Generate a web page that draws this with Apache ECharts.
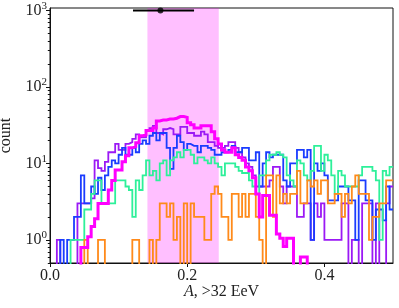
<!DOCTYPE html>
<html><head><meta charset="utf-8">
<script src="https://cdn.jsdelivr.net/npm/echarts@6/dist/echarts.min.js"></script>
<style>html,body{margin:0;padding:0;background:#fff}#c{width:399px;height:308px}</style>
</head><body><div id="c"></div>
<script>
// histogram bins: 100 bins of width 0.005 from 0 to 0.5
const binStart = 0, binWidth = 0.005;
const magenta = [0,0,0,0,0,0,0,0,0,0.8, 0.8,1.1,1.5,1.9,3,3,3,4.5,6,8.2, 8.2,10.5,12.6,16,16.6,18.6,23,23.5,27,27,
 29,36,37,37,38,38,39,41,41,40, 34,32,29,29,31,31,31,26,21,18, 15,14,14,16,13,12,11,9,8,6.5,
 4,2,3.8,3.8,2.1,2.1,1.2,1.05,0.82,1.05, 1.05,0,0,0.6,0.6,0,0,0,0,0, 0,0,0,0,0,0,0,0,0,0, 0,0,0,0,0,0,0,0,0,0];
const blue = [0,0,0,1,0,1,1,2,2,7, 3,3,5,4,6.5,4.5,7,9,11,10, 13,16,13,13,16,14,18,20,18,23,
 25,20,25,25,16,8.5,16,23,19,15, 18,17,17,14,17,17,16,15,13,13, 14,14,15,17,14,14,16,16,11,11,
 14,5,10,14,12,13,13,13,6,5, 10,10,15,15,12,15,1,10,8,10, 7,3.3,3.3,3.3,5,5,5,3.3,3.3,1, 6,6,3.3,3.3,1,2.5,2.5,1.8,5,2.5];
const purple = [0,0,1,0,0,0,0,0,3,3, 3,3,3.5,11,8.7,8,10.5,14,14,18, 15,15,18,19,21,24,22,22,27,29,
 31,25,24,28,29,28,24,24,30,30, 25,25,23,23,26,24,19,19,17,16, 16,17,19,19,16,14,12,10,9,7,
 5,5,5,5,6,9,9,5,3,5, 5,5,2,2,3,3,1,3,2,3, 1,1,1,1,1,3,3,0,1,1, 0,3,3,3,0,3,0,0,3,5];
const green = [0,0,0,0,0,0,1,1,1,1, 2.5,2.5,4,6,6,3,3,3,3,6, 6,6,5,4.5,2,6,4.5,7,11,7,
 8,6,10,11,7,11,12,14,12,15, 15,13,10,12,12,11,10,12,10,9, 7,10,10,10,9,8,7.5,7.5,6,5,
 4,7,7,11,13,13,14,13,12,7, 6,5,11,10,7,6,8,17,17,8, 13,11,7,4,8,7,5,5,5,5, 7,9,9,9,8,6,1,8,7,9];
const orange = [0,0,0,0,0,0,0,0,0,0, 1,0,0,0,1,1,0,0,0,0, 0,0,0,0,1,1,0,0,0,1,
 0,1,3,3,2,3,1,2,0,3, 0,3,2,2,2,1,1,4,5,4, 2,2,1,4,4,2,4,2,4,4,
 2,1,0,7,7,2,7,3,4,3, 4,4,8,3,3,6,5,6,4,6, 6,3,3,4,4,2,4,3,5,7, 4,4,4,1,2,2,3,3,6,6];
const band = [0.142, 0.246];
const errX = [0.121, 0.21];
const errPoint = [0.161, 1000];
const xTicks = [0, 0.2, 0.4];
const yMajor = [1, 10, 100, 1000];
const yMinor = [0.5,0.6,0.7,0.8,0.9, 2,3,4,5,6,7,8,9, 20,30,40,50,60,70,80,90, 200,300,400,500,600,700,800,900];

const FLOOR = 0.05;
function stepPts(vals){
  const pts = [[binStart, FLOOR]];
  for (let i = 0; i < vals.length; i++) pts.push([binStart + i*binWidth, vals[i] > 0 ? vals[i] : FLOOR]);
  const last = vals[vals.length-1];
  pts.push([binStart + vals.length*binWidth, last > 0 ? last : FLOOR]);
  return pts;
}
function hist(name, vals, color, width, z){
  return {name, type:'line', step:'end', data: stepPts(vals), symbol:'none', showSymbol:false,
    clip:true, silent:true, animation:false, z, lineStyle:{color, width, join:'miter'}};
}
const font = 'Liberation Serif, DejaVu Serif, serif';
const chart = echarts.init(document.getElementById('c'), null, {renderer:'canvas'});
chart.setOption({
  animation:false,
  grid:{left:50, right:6, top:8, bottom:45, show:true, borderColor:'#111', borderWidth:1, containLabel:false, outerBoundsMode:'none'},
  xAxis:{type:'value', min:0, max:0.5,
    name:'{i|A}, >32 EeV', nameLocation:'middle', nameGap:21, nameMoveOverlap:false,
    nameTextStyle:{fontFamily:font, fontSize:16, color:'#222', rich:{i:{fontFamily:font, fontSize:16, fontStyle:'italic', color:'#222'}}},
    axisLine:{show:true, lineStyle:{color:'#111', width:1}},
    axisTick:{show:true, inside:false, length:4, customValues:xTicks, lineStyle:{color:'#111'}},
    axisLabel:{customValues:xTicks, margin:5, fontFamily:font, fontSize:16, color:'#222', formatter:v=>v.toFixed(1)},
    splitLine:{show:false}},
  yAxis:[{type:'log', logBase:10, min:0.5, max:1075,
    name:'count', nameLocation:'middle', nameGap:36, nameRotate:90, nameMoveOverlap:false,
    nameTextStyle:{fontFamily:font, fontSize:16, color:'#222'},
    axisLine:{show:true, lineStyle:{color:'#111', width:1}},
    axisTick:{show:true, inside:false, length:4, customValues:yMajor, lineStyle:{color:'#111'}},
    axisLabel:{customValues:yMajor, margin:3, fontFamily:font, fontSize:16, color:'#222',
      formatter:v=>'{b|10}{s|'+Math.round(Math.log10(v))+'}',
      rich:{b:{fontFamily:font, fontSize:16, color:'#222'}, s:{fontFamily:font, fontSize:11, color:'#222', padding:[0,0,9,0]}}},
    splitLine:{show:false}},
   {type:'log', logBase:10, min:0.5, max:1075, position:'left',
    axisLine:{show:false}, axisLabel:{show:false}, splitLine:{show:false},
    axisTick:{show:true, inside:false, length:2.2, customValues:yMinor, lineStyle:{color:'#111'}}}],
  series:[
    {type:'line', data:[[band[0],1]], symbol:'none', lineStyle:{opacity:0}, silent:true, z:0,
      markArea:{silent:true, itemStyle:{color:'rgba(255,0,255,0.25)'}, data:[[{xAxis:band[0]},{xAxis:band[1]}]]}},
    hist('purple', purple, '#9b19f5', 1.8, 2),
    hist('blue', blue, '#1a3cff', 1.8, 3),
    hist('green', green, '#2ef09a', 1.8, 4),
    hist('orange', orange, '#ff8a1a', 1.8, 5),
    hist('magenta', magenta, '#ff00ff', 3, 6),
    {type:'line', data:[[errX[0],errPoint[1]],[errX[1],errPoint[1]]], symbol:'none', lineStyle:{color:'#000', width:2}, z:8, silent:true},
    {type:'scatter', data:[errPoint], symbol:'circle', symbolSize:6, itemStyle:{color:'#000'}, z:9, silent:true}
  ]
});
</script></body></html>
